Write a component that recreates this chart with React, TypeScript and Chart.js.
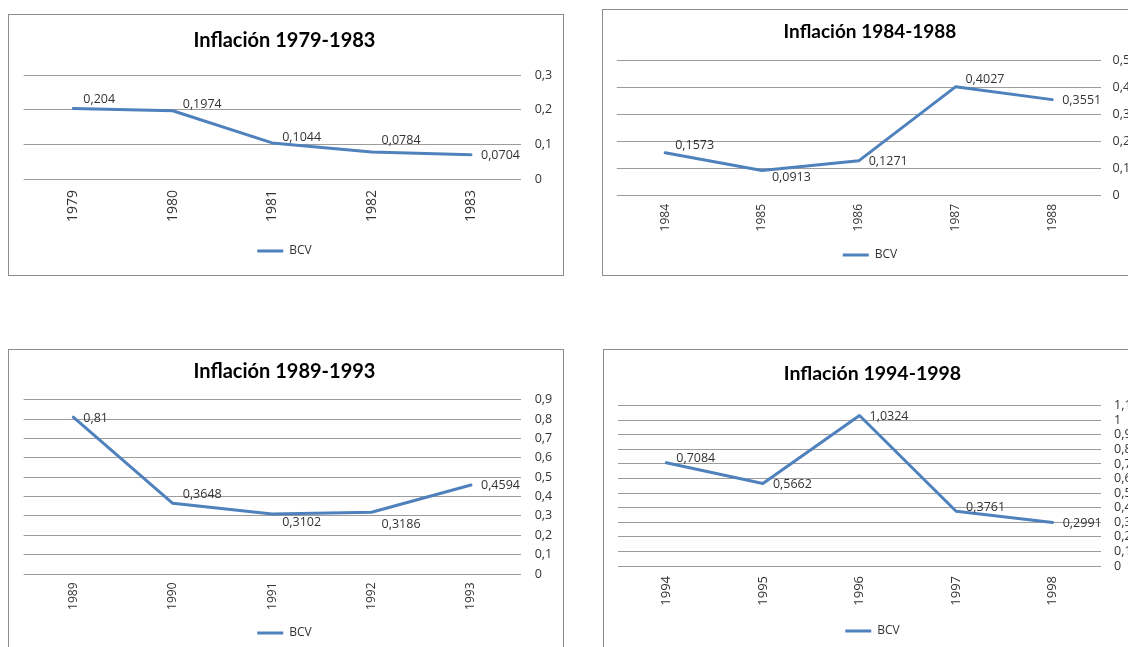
import React, { useEffect, useRef } from 'react';
import { Chart, registerables } from 'chart.js';

Chart.register(...registerables);

// ---- data ----
const years1 = ['1979', '1980', '1981', '1982', '1983'];
const inflation1 = [0.204, 0.1974, 0.1044, 0.0784, 0.0704];
const years2 = ['1984', '1985', '1986', '1987', '1988'];
const inflation2 = [0.1573, 0.0913, 0.1271, 0.4027, 0.3551];
const years3 = ['1989', '1990', '1991', '1992', '1993'];
const inflation3 = [0.81, 0.3648, 0.3102, 0.3186, 0.4594];
const years4 = ['1994', '1995', '1996', '1997', '1998'];
const inflation4 = [0.7084, 0.5662, 1.0324, 0.3761, 0.2991];
const titles = ['Inflación 1979-1983', 'Inflación 1984-1988', 'Inflación 1989-1993', 'Inflación 1994-1998'];
const yMax = [0.3, 0.5, 0.9, 1.1];
const seriesName = 'BCV';

// ---- label placement (vertical nudges of the value labels, px) ----
const labelDy1 = [-9, -6, -5, -11, 1];
const labelDy2 = [-7, 7, 1, -7, 1];
const labelDy3 = [1, -9, 9, 12, 0];
const labelDy4 = [-4, 1, 1, -4, 1];

const BLUE = '#4F81BD';
const GRID = '#9c9c9c';
const TEXT = '#333333';
const BODY_FONT = "'Open Sans', 'Liberation Sans', sans-serif";
const TITLE_FONT = "Lato, 'Open Sans', sans-serif";

const fmt = (v: number) => String(Number(v.toFixed(4))).replace('.', ',');

type Layout = {
  left: number; top: number; boxW: number; boxH: number; canvasW: number;
  padLeft: number; leftW: number; padBottom: number; yW: number; yPad: number;
  titleSize: number; tpTop: number; tpBottom: number;
  xH: number; xPad: number; xFont: number;
};

const layouts: Layout[] = [
  { left: 8, top: 14, boxW: 556, boxH: 262, canvasW: 548, padLeft: 3, leftW: 11.6, padBottom: 8, yW: 36.3, yPad: 14, titleSize: 20, tpTop: 13.7, tpBottom: 22.6, xH: 56, xPad: 11, xFont: 14 },
  { left: 602, top: 9, boxW: 541, boxH: 267, canvasW: 534, padLeft: 0, leftW: 13.8, padBottom: 4, yW: 36.4, yPad: 12, titleSize: 19, tpTop: 10.9, tpBottom: 17, xH: 44, xPad: 9, xFont: 12 },
  { left: 8, top: 349, boxW: 556, boxH: 310, canvasW: 548, padLeft: 3, leftW: 11.6, padBottom: 9, yW: 36.3, yPad: 14, titleSize: 20, tpTop: 9.7, tpBottom: 16, xH: 43, xPad: 8.5, xFont: 12 },
  { left: 603, top: 349, boxW: 541, boxH: 310, canvasW: 537, padLeft: 0, leftW: 14, padBottom: 11, yW: 40, yPad: 13, titleSize: 19.5, tpTop: 11.6, tpBottom: 20.7, xH: 49, xPad: 10, xFont: 13 },
];

function makeLabelPlugin(dy: number[]) {
  return {
    id: 'valueLabels',
    afterDatasetsDraw(chart: any) {
      const { ctx } = chart;
      const meta = chart.getDatasetMeta(0);
      const data = chart.data.datasets[0].data as number[];
      ctx.save();
      ctx.font = `12.5px ${BODY_FONT}`;
      ctx.fillStyle = TEXT;
      ctx.textAlign = 'left';
      ctx.textBaseline = 'middle';
      meta.data.forEach((pt: any, i: number) => {
        ctx.fillText(fmt(data[i]), pt.x + 10, pt.y + (dy[i] || 0));
      });
      ctx.restore();
    },
  };
}

function InflationChart(props: { labels: string[]; values: number[]; title: string; max: number; dy: number[]; lay: Layout }) {
  const { labels, values, title, max, dy, lay } = props;
  const ref = useRef<HTMLCanvasElement>(null);
  const cw = lay.canvasW;
  const ch = lay.boxH - 2;

  useEffect(() => {
    if (!ref.current) return;
    const chart = new Chart(ref.current, {
      type: 'line',
      data: {
        labels,
        datasets: [
          {
            label: seriesName,
            data: values,
            yAxisID: 'y',
            borderColor: BLUE,
            backgroundColor: BLUE,
            borderWidth: 3,
            pointRadius: 0,
            pointHoverRadius: 0,
            tension: 0,
            fill: false,
            borderJoinStyle: 'round',
            borderCapStyle: 'round',
          },
        ],
      },
      options: {
        animation: false,
        responsive: false,
        devicePixelRatio: 1,
        events: [],
        layout: { padding: { left: lay.padLeft, right: 0, top: 0, bottom: lay.padBottom } },
        plugins: {
          title: {
            display: true,
            text: title,
            color: '#000',
            font: { family: TITLE_FONT, size: lay.titleSize, weight: 'bold' },
            padding: { top: lay.tpTop, bottom: lay.tpBottom },
          },
          legend: {
            display: true,
            position: 'bottom',
            labels: {
              color: TEXT,
              font: { family: BODY_FONT, size: 12 },
              usePointStyle: true,
              pointStyle: 'line',
              pointStyleWidth: 26,
              padding: 10,
            },
          },
          tooltip: { enabled: false },
        },
        scales: {
          x: {
            type: 'category',
            offset: true,
            grid: { display: false, drawTicks: false },
            border: { display: false },
            ticks: {
              autoSkip: false,
              minRotation: 90,
              maxRotation: 90,
              padding: lay.xPad,
              color: TEXT,
              font: { family: BODY_FONT, size: lay.xFont },
            },
            afterFit: (s: any) => { s.height = lay.xH; },
          },
          y: {
            position: 'right',
            min: 0,
            max,
            grid: { color: GRID, lineWidth: 1, drawTicks: false },
            border: { display: false },
            ticks: {
              stepSize: 0.1,
              autoSkip: false,
              padding: lay.yPad,
              color: TEXT,
              font: { family: BODY_FONT, size: 12.5 },
              callback: (v: any) => fmt(Number(v)),
            },
            afterFit: (s: any) => { s.width = lay.yW; },
          },
          yLeft: {
            type: 'linear',
            position: 'left',
            display: true,
            min: 0,
            max,
            grid: { display: false, drawTicks: false },
            border: { display: false },
            ticks: { display: false },
            afterFit: (s: any) => { s.width = lay.leftW; },
          },
        },
      },
      plugins: [makeLabelPlugin(dy)],
    } as any);
    return () => chart.destroy();
  }, []);

  return (
    <div
      style={{
        position: 'absolute',
        left: lay.left,
        top: lay.top,
        width: lay.boxW,
        height: lay.boxH,
        border: '1px solid #8c8c8c',
        boxSizing: 'border-box',
        background: '#fff',
      }}
    >
      <canvas ref={ref} width={cw} height={ch} style={{ display: 'block', width: cw, height: ch }} />
    </div>
  );
}

export default function App() {
  return (
    <div style={{ position: 'fixed', left: 0, top: 0, width: 1128, height: 647, overflow: 'hidden', background: '#fff' }}>
      <InflationChart labels={years1} values={inflation1} title={titles[0]} max={yMax[0]} dy={labelDy1} lay={layouts[0]} />
      <InflationChart labels={years2} values={inflation2} title={titles[1]} max={yMax[1]} dy={labelDy2} lay={layouts[1]} />
      <InflationChart labels={years3} values={inflation3} title={titles[2]} max={yMax[2]} dy={labelDy3} lay={layouts[2]} />
      <InflationChart labels={years4} values={inflation4} title={titles[3]} max={yMax[3]} dy={labelDy4} lay={layouts[3]} />
    </div>
  );
}
